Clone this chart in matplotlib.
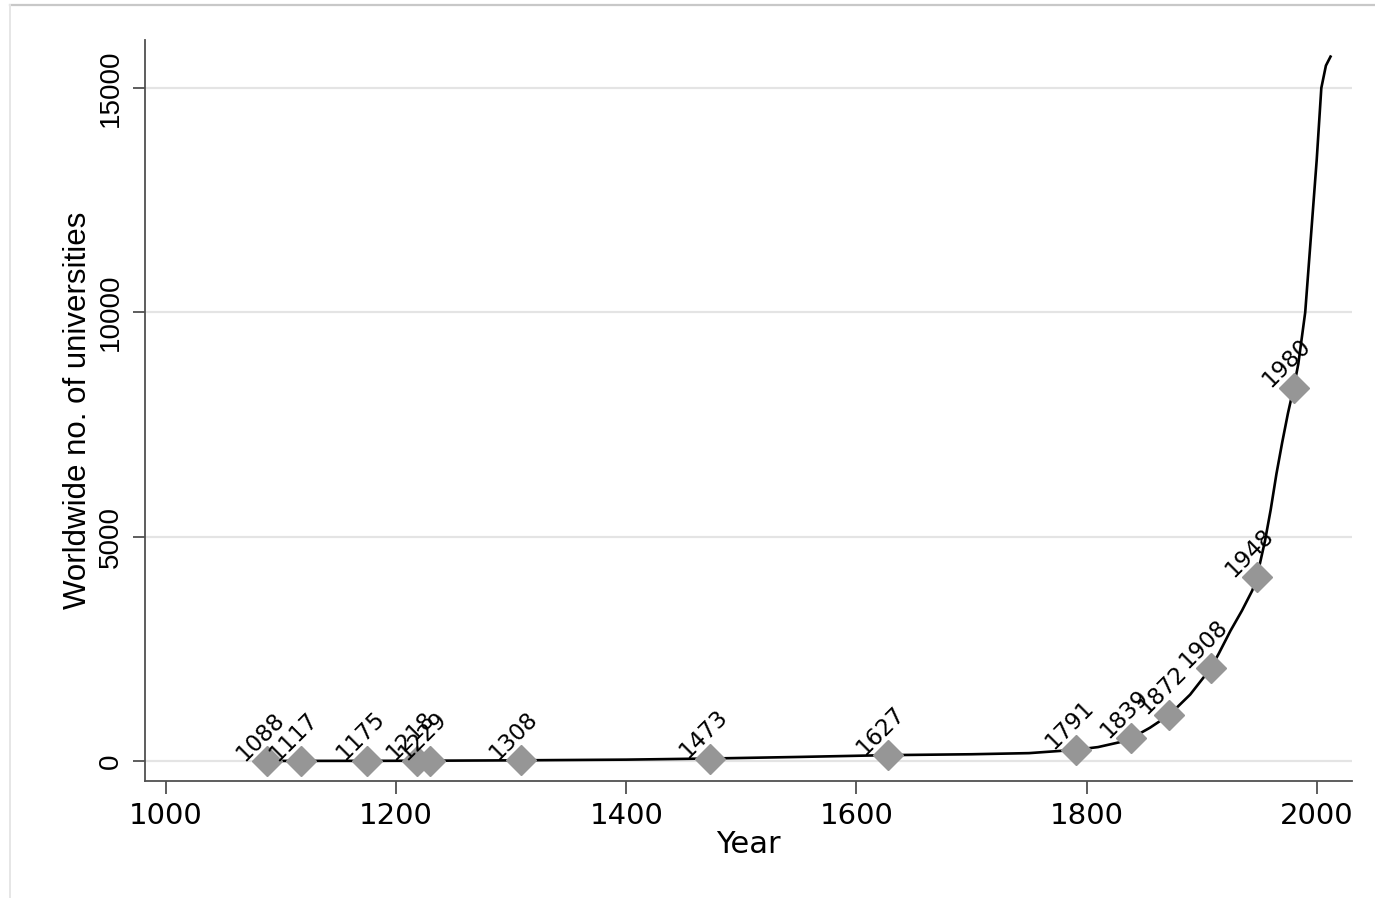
import matplotlib
matplotlib.use("Agg")
import matplotlib.pyplot as plt
from matplotlib.lines import Line2D

plt.rcParams['font.family'] = ['Liberation Sans', 'DejaVu Sans']

# Fondations des universités (points marqués)
found_years = [1088, 1117, 1175, 1218, 1229, 1308, 1473, 1627,
               1791, 1839, 1872, 1908, 1948, 1980]
found_counts = [1, 2, 3, 5, 6, 15, 55, 130,
                250, 510, 1030, 2070, 4100, 8320]

# Courbe du nombre total d'universités
curve_years = [1088, 1117, 1175, 1218, 1229, 1308, 1400, 1473, 1550, 1627,
               1700, 1750, 1791, 1810, 1829, 1839, 1855, 1872, 1890, 1908,
               1915, 1925, 1935, 1944, 1948, 1955, 1960, 1965, 1970, 1975,
               1980, 1984, 1990, 1995, 2000, 2004, 2008, 2011, 2012]
curve_counts = [1, 2, 3, 5, 6, 15, 30, 55, 90, 130,
                150, 175, 250, 310, 420, 510, 740, 1030, 1480, 2070,
                2400, 2900, 3350, 3800, 4100, 4900, 5600, 6400, 7100, 7750,
                8320, 8850, 10000, 11700, 13400, 15000, 15500, 15650, 15700]

x_ticks = [1000, 1200, 1400, 1600, 1800, 2000]
y_ticks = [0, 5000, 10000, 15000]

wide_font = ['DejaVu Sans']

fig = plt.figure(figsize=(13.75, 8.98), dpi=100)
ax = fig.add_axes([0.1055, 0.1303, 0.8778, 0.8252])

axis_col = '#505050'

# Grille horizontale
for yv in y_ticks:
    ax.axhline(yv, color='#e4e4e4', linewidth=1.6, zorder=0)

ax.plot(curve_years, curve_counts, color='black', linewidth=1.9, zorder=2)
ax.plot(found_years, found_counts, linestyle='none', marker='D',
        markersize=15, color='#969696', markeredgecolor='#969696', zorder=3)

for yr, c in zip(found_years, found_counts):
    ax.annotate(str(yr), xy=(yr, c), xytext=(-14, -3), textcoords='offset points',
                rotation=45, rotation_mode='anchor', ha='left', va='bottom',
                fontsize=16.5, family=wide_font, color='black', zorder=4)

ax.set_xlim(981.7, 2030.7)
ax.set_ylim(-446, 16071)
ax.set_xticks(x_ticks)
ax.set_yticks(y_ticks)
ax.set_xticklabels([str(v) for v in x_ticks], fontsize=21, family=wide_font)
ax.set_yticklabels([str(v) for v in y_ticks], fontsize=20, rotation=90, va='center')

ax.set_xlabel('Year', fontsize=22, family=wide_font, labelpad=0)
ax.set_ylabel('Worldwide no. of universities', fontsize=22.5, labelpad=4)

for side in ['top', 'right']:
    ax.spines[side].set_visible(False)
for side in ['left', 'bottom']:
    ax.spines[side].set_color(axis_col)
    ax.spines[side].set_linewidth(1.3)

ax.tick_params(axis='both', direction='out', length=9, width=1.3, color=axis_col,
               pad=6)

# Cadre gris autour du graphique
fig.add_artist(Line2D([10 / 1375, 1], [1 - 5 / 898, 1 - 5 / 898],
                      color='#c8c8c8', linewidth=1.6, transform=fig.transFigure))
fig.add_artist(Line2D([10 / 1375, 10 / 1375], [0, 1 - 5 / 898],
                      color='#e6e6e6', linewidth=1.4, transform=fig.transFigure))

fig.savefig('out.png', dpi=100)
plt.close(fig)
